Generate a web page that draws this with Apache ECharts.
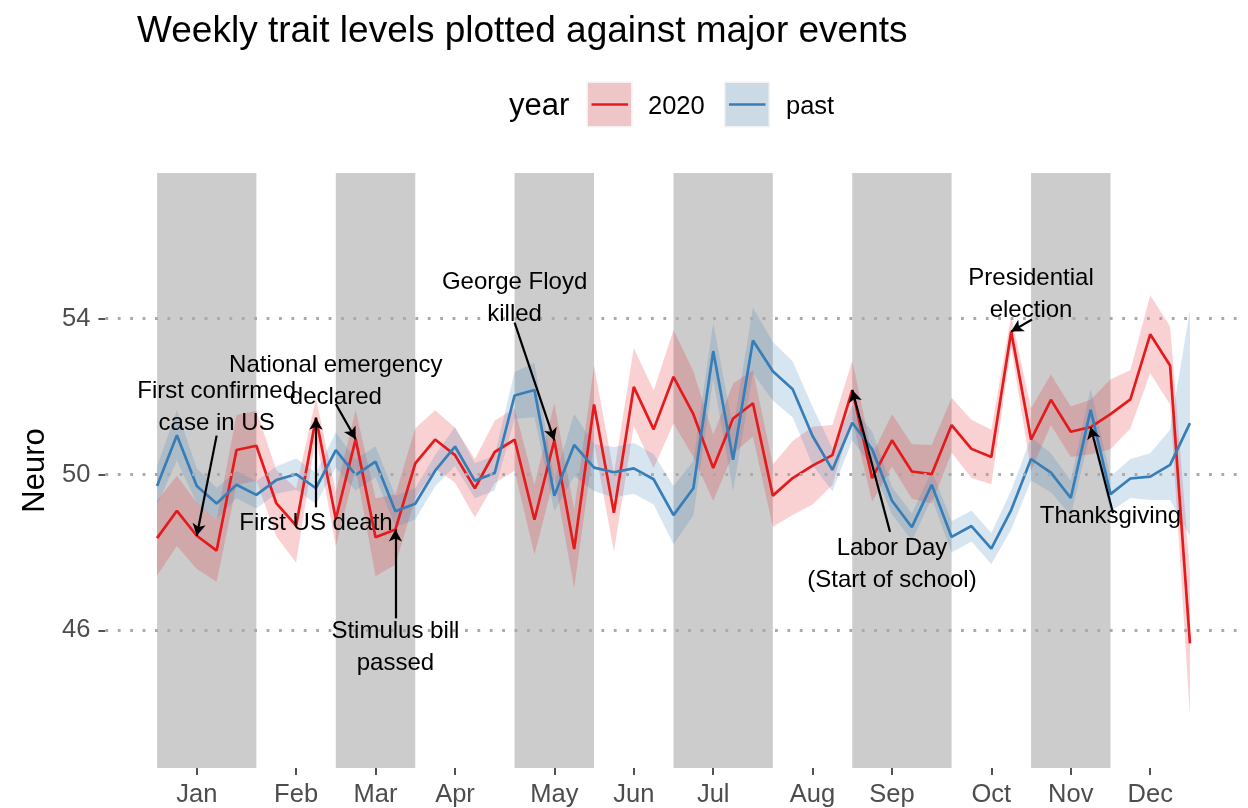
<!DOCTYPE html>
<html>
<head>
<meta charset="utf-8">
<title>Weekly trait levels plotted against major events</title>
<script src="https://cdn.jsdelivr.net/npm/echarts@6/dist/echarts.min.js"></script>
<style>
  html, body { margin: 0; padding: 0; background: #ffffff; }
  #chart { width: 1248px; height: 808px; }
</style>
</head>
<body>
<div id="chart"></div>
<script>
// ---- data -------------------------------------------------------------
const weeks = [1, 2, 3, 4, 5, 6, 7, 8, 9, 10, 11, 12, 13, 14, 15, 16, 17, 18, 19, 20,
  21, 22, 23, 24, 25, 26, 27, 28, 29, 30, 31, 32, 33, 34, 35, 36, 37, 38, 39, 40,
  41, 42, 43, 44, 45, 46, 47, 48, 49, 50, 51, 52, 53];

// weekly mean Neuro score, 2020
const neuro2020 = [48.37, 49.07, 48.43, 48.05, 50.63, 50.74, 49.27, 48.69, 51.46, 48.86,
  50.91, 48.39, 48.59, 50.29, 50.90, 50.50, 49.65, 50.58, 50.90, 48.84,
  50.88, 48.09, 51.80, 49.02, 52.25, 51.16, 52.51, 51.55, 50.17, 51.44,
  51.83, 49.46, 49.91, 50.23, 50.50, 52.17, 49.91, 50.88, 50.08, 50.01,
  51.27, 50.66, 50.45, 53.67, 50.90, 51.92, 51.10, 51.22, 51.55, 51.93,
  53.60, 52.80, 45.67];
// half width of the 2020 interval
const neuro2020Half = [0.96, 0.90, 0.85, 0.80, 0.90, 0.90, 0.85, 0.95, 0.50, 0.70,
  0.75, 1.00, 0.90, 0.90, 0.75, 0.70, 0.75, 0.80, 0.80, 0.90,
  0.95, 1.00, 1.00, 1.00, 1.00, 1.00, 1.20, 1.10, 0.85, 0.90,
  0.85, 0.80, 0.95, 1.00, 0.77, 0.75, 0.60, 0.67, 0.70, 0.75,
  0.70, 0.75, 0.70, 0.40, 0.80, 0.65, 0.65, 0.70, 0.90, 0.75,
  1.00, 1.00, 1.85];

// weekly mean Neuro score, past years
const neuroPast = [49.71, 51.01, 49.71, 49.26, 49.74, 49.48, 49.86, 50.01, 49.65, 50.63,
  49.99, 50.33, 49.06, 49.25, 50.10, 50.72, 49.84, 50.04, 52.03, 52.17,
  49.46, 50.76, 50.18, 50.06, 50.16, 49.88, 48.96, 49.65, 53.17, 50.38,
  53.44, 52.65, 52.19, 50.99, 50.12, 51.33, 50.65, 49.33, 48.65, 49.74,
  48.40, 48.68, 48.10, 49.09, 50.40, 50.05, 49.40, 51.66, 49.50, 49.90,
  49.95, 50.25, 51.32];
const neuroPastHalf = [0.50, 0.65, 0.45, 0.40, 0.35, 0.35, 0.35, 0.40, 0.40, 0.45,
  0.40, 0.40, 0.40, 0.40, 0.40, 0.50, 0.45, 0.45, 0.60, 0.70,
  0.40, 0.80, 0.60, 0.65, 0.65, 0.65, 0.75, 0.70, 0.72, 0.80,
  0.84, 0.75, 0.72, 0.75, 0.55, 0.45, 0.45, 0.35, 0.35, 0.35,
  0.40, 0.40, 0.40, 0.50, 0.55, 0.50, 0.45, 0.55, 0.45, 0.50,
  0.60, 0.90, 2.90];

// month labels sit at each month's middle week
const monthNames = ['Jan', 'Feb', 'Mar', 'Apr', 'May', 'Jun', 'Jul', 'Aug', 'Sep', 'Oct', 'Nov', 'Dec'];
const monthMidWeeks = [3, 8, 12, 16, 21, 25, 29, 34, 38, 43, 47, 51];
// shaded months (Jan, Mar, May, Jul, Sep, Nov): first week .. first week of next month
const shadeStartWeeks = [1, 10, 19, 27, 36, 45];
const shadeEndWeeks = [6, 14, 23, 32, 41, 49];

const yTicks = [46, 50, 54];

// events: label, week of the event, which series the arrow points at
const eventLabels = ['First confirmed\ncase in US', 'National emergency\ndeclared', 'First US death',
  'Stimulus bill\npassed', 'George Floyd\nkilled', 'Labor Day\n(Start of school)',
  'Presidential\nelection', 'Thanksgiving'];
const eventWeeks = [3, 11, 9, 13, 21, 36, 44, 48];
const eventSeries = ['2020', '2020', '2020', '2020', '2020', '2020', '2020', '2020'];
// label anchor and arrow tail, in (week, Neuro) units
const eventLabelX = [4, 10, 9, 13, 19, 38, 45, 49];
const eventLabelY = [51.72, 52.39, 48.76, 45.57, 54.52, 47.70, 54.62, 48.92];
const eventTailX = [4, 10, 9, 13, 19, 37.9, 45.05, 49.13];
const eventTailY = [51.00, 51.81, 49.16, 46.31, 53.90, 48.53, 53.98, 49.01];

// ---- styling ----------------------------------------------------------
const FONT = "'Liberation Sans', Arial, Helvetica, sans-serif";
const RED = '#E41A1C';
const BLUE = '#377EB8';
const RED_FILL = 'rgba(228,26,28,0.2)';
const BLUE_FILL = 'rgba(55,126,184,0.2)';

const GRID = { left: 105.4, right: 6.4, top: 173, bottom: 38 };

function seriesValue(name, week) {
  const arr = name === '2020' ? neuro2020 : neuroPast;
  return arr[weeks.indexOf(week)];
}

// confidence band drawn as one polygon through the axis scales
function ribbon(name, values, halves, fill, z) {
  return {
    type: 'custom',
    name: name + ' band',
    z: z,
    silent: true,
    animation: false,
    data: weeks.map((w, i) => [w, values[i] - halves[i], values[i] + halves[i]]),
    encode: { x: 0, y: [1, 2] },
    renderItem: function (params, api) {
      if (params.dataIndexInside !== 0) return null;
      const upper = [], lower = [];
      for (let i = 0; i < weeks.length; i++) {
        upper.push(api.coord([weeks[i], values[i] + halves[i]]));
        lower.unshift(api.coord([weeks[i], values[i] - halves[i]]));
      }
      return {
        type: 'polygon',
        shape: { points: upper.concat(lower) },
        style: { fill: fill, stroke: null }
      };
    }
  };
}

const chart = echarts.init(document.getElementById('chart'), null, { renderer: 'canvas' });

const option = {
  animation: false,
  backgroundColor: '#ffffff',
  textStyle: { fontFamily: FONT },
  title: {
    text: 'Weekly trait levels plotted against major events',
    left: 132,
    top: 8,
    textStyle: { fontFamily: FONT, fontSize: 37, fontWeight: 'normal', color: '#000000' }
  },
  grid: GRID,
  xAxis: {
    type: 'value',
    min: -1.6,
    max: 55.6,
    axisLine: { show: false, onZero: false },
    splitLine: { show: false },
    axisTick: {
      show: true,
      customValues: monthMidWeeks,
      length: 7,
      lineStyle: { color: '#333333', width: 1.7 }
    },
    axisLabel: {
      customValues: monthMidWeeks,
      formatter: (v) => monthNames[monthMidWeeks.indexOf(v)],
      color: '#4d4d4d',
      fontSize: 25.5,
      fontFamily: FONT,
      margin: 14
    }
  },
  yAxis: {
    type: 'value',
    min: 42.47,
    max: 57.74,
    name: 'Neuro',
    nameLocation: 'middle',
    nameGap: 52,
    nameRotate: 90,
    nameTextStyle: { fontFamily: FONT, fontSize: 31, color: '#000000' },
    axisLine: { show: false, onZero: false },
    splitLine: { show: false },
    axisTick: {
      show: true,
      customValues: yTicks,
      length: 7,
      lineStyle: { color: '#333333', width: 1.7 }
    },
    axisLabel: {
      customValues: yTicks,
      color: '#4d4d4d',
      fontSize: 25.5,
      fontFamily: FONT,
      margin: 15
    }
  },
  series: [
    // dotted horizontal guides at the labelled Neuro levels
    {
      type: 'line',
      name: 'guides',
      data: [],
      z: 0,
      silent: true,
      markLine: {
        silent: true,
        symbol: ['none', 'none'],
        label: { show: false },
        lineStyle: { color: '#a9a9a9', width: 2.8, type: [2.8, 9.6] },
        data: yTicks.map((v) => ({ yAxis: v }))
      }
    },
    // alternating month shading
    {
      type: 'line',
      name: 'months',
      data: [],
      z: 1,
      silent: true,
      markArea: {
        silent: true,
        itemStyle: { color: 'rgba(0,0,0,0.2)' },
        data: shadeStartWeeks.map((s, i) => [
          { xAxis: s, yAxis: 42.47 },
          { xAxis: shadeEndWeeks[i], yAxis: 57.74 }
        ])
      }
    },
    ribbon('2020', neuro2020, neuro2020Half, RED_FILL, 2),
    ribbon('past', neuroPast, neuroPastHalf, BLUE_FILL, 2),
    {
      type: 'line',
      name: '2020',
      z: 3,
      data: weeks.map((w, i) => [w, neuro2020[i]]),
      showSymbol: false,
      symbol: 'none',
      lineStyle: { color: RED, width: 2.7 },
      itemStyle: { color: RED },
      emphasis: { disabled: true }
    },
    {
      type: 'line',
      name: 'past',
      z: 3,
      data: weeks.map((w, i) => [w, neuroPast[i]]),
      showSymbol: false,
      symbol: 'none',
      lineStyle: { color: BLUE, width: 2.7 },
      itemStyle: { color: BLUE },
      emphasis: { disabled: true }
    },
    // event arrows
    {
      type: 'line',
      name: 'event arrows',
      data: [],
      z: 4,
      silent: true,
      markLine: {
        silent: true,
        symbol: ['none', 'arrow'],
        symbolSize: [10, 12],
        label: { show: false },
        lineStyle: { color: '#000000', width: 2.2, type: 'solid' },
        data: eventWeeks.map((w, i) => [
          { coord: [eventTailX[i], eventTailY[i]] },
          { coord: [w, seriesValue(eventSeries[i], w)] }
        ])
      }
    },
    // event labels
    {
      type: 'custom',
      name: 'event labels',
      z: 5,
      silent: true,
      data: eventLabels.map((t, i) => [eventLabelX[i], eventLabelY[i]]),
      encode: { x: 0, y: 1 },
      renderItem: function (params, api) {
        const p = api.coord([api.value(0), api.value(1)]);
        return {
          type: 'text',
          x: p[0],
          y: p[1],
          style: {
            text: eventLabels[params.dataIndex],
            fill: '#000000',
            font: '24px ' + FONT,
            align: 'center',
            verticalAlign: 'middle',
            lineHeight: 32
          }
        };
      }
    }
  ],
  // legend: title, keys with band fill and line, labels
  graphic: [
    { type: 'text', left: 509, top: 91, style: { text: 'year', font: '31px ' + FONT, fill: '#000' } },
    { type: 'rect', shape: { x: 586.5, y: 81.5, width: 46, height: 46 }, style: { fill: '#f2f2f2' } },
    { type: 'rect', shape: { x: 588, y: 83, width: 43, height: 43 }, style: { fill: RED_FILL } },
    { type: 'line', shape: { x1: 591.5, y1: 104.5, x2: 628, y2: 104.5 }, style: { stroke: RED, lineWidth: 2.7 } },
    { type: 'text', left: 648, top: 94, style: { text: '2020', font: '25.5px ' + FONT, fill: '#000' } },
    { type: 'rect', shape: { x: 724, y: 81.5, width: 46, height: 46 }, style: { fill: '#f2f2f2' } },
    { type: 'rect', shape: { x: 725.5, y: 83, width: 43, height: 43 }, style: { fill: BLUE_FILL } },
    { type: 'line', shape: { x1: 729, y1: 104.5, x2: 765.5, y2: 104.5 }, style: { stroke: BLUE, lineWidth: 2.7 } },
    { type: 'text', left: 786, top: 94, style: { text: 'past', font: '25.5px ' + FONT, fill: '#000' } }
  ]
};

chart.setOption(option);
</script>
</body>
</html>
